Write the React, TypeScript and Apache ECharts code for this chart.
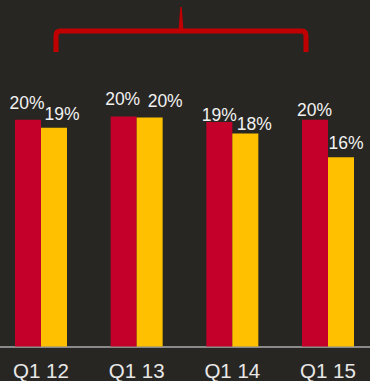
import React, { useEffect, useRef } from "react";
import * as echarts from "echarts";

const categories = ["Q1 12", "Q1 13", "Q1 14", "Q1 15"];
const redValues = [20.0, 20.3, 19.8, 20.0];
const yellowValues = [19.3, 20.2, 18.8, 16.7];
const redLabels = ["20%", "20%", "19%", "20%"];
const yellowLabels = ["19%", "20%", "18%", "16%"];
// label nudges [dx, dy] to mimic the hand-placed labels
const redOffsets = [[-1, -8], [-1, -8], [0, 1.5], [-0.5, -0.5]];
const yellowOffsets = [[8, -5], [15.5, -8], [9, -0.5], [5, -5]];

const FONT = "'Liberation Sans', Arial, sans-serif";

let registered = false;
function registerBrace() {
  if (registered) return;
  registered = true;
  echarts.graphic.registerShape(
    "brace",
    echarts.graphic.extendPath(
      "M56,52 L56,35.5 Q56,31 60.5,31 L301.5,31 Q306,31 306,35.5 L306,52",
      {}
    )
  );
}

export default function App() {
  const ref = useRef<HTMLDivElement>(null);
  useEffect(() => {
    if (!ref.current) return;
    registerBrace();
    const chart = echarts.init(ref.current, undefined, { renderer: "svg" });
    const mk = (vals: number[], labels: string[], offs: number[][]) =>
      vals.map((v, i) => ({
        value: v,
        label: { formatter: labels[i], offset: offs[i] },
      }));
    const labelBase = {
      show: true,
      position: "top" as const,
      distance: 0,
      color: "#f2f2f2",
      fontSize: 17.5,
      fontFamily: FONT,
    };
    chart.setOption({
      animation: false,
      backgroundColor: "#282622",
      grid: {
        left: -6.83,
        right: -5.83,
        top: 6.5,
        bottom: 34.5,
        containLabel: false,
        outerBoundsMode: "none",
      },
      xAxis: {
        type: "category",
        data: categories,
        axisLine: { show: true, lineStyle: { color: "#8a8a8a", width: 2 } },
        axisTick: { show: false },
        axisLabel: {
          color: "#e8e8e8",
          fontSize: 20.5,
          fontFamily: FONT,
          margin: 13,
        },
      },
      yAxis: {
        type: "value",
        min: 0,
        max: 30,
        show: false,
        splitLine: { show: false },
      },
      series: [
        {
          type: "bar",
          data: mk(redValues, redLabels, redOffsets),
          barWidth: 26,
          barGap: "0%",
          itemStyle: { color: "#c4002a" },
          label: labelBase,
        },
        {
          type: "bar",
          data: mk(yellowValues, yellowLabels, yellowOffsets),
          barWidth: 26,
          itemStyle: { color: "#ffc000" },
          label: labelBase,
        },
      ],
      graphic: [
        {
          type: "brace",
          x: 0,
          y: 0,
          style: { fill: "none", stroke: "#c00000", lineWidth: 5 },
        },
        {
          type: "polygon",
          shape: {
            points: [
              [178.5, 31],
              [180.3, 7],
              [181.7, 7],
              [183.5, 31],
            ],
          },
          style: { fill: "#c00000" },
        },
      ],
    });
    return () => chart.dispose();
  }, []);
  return (
    <div
      ref={ref}
      style={{ position: "fixed", left: 0, top: 0, width: 370, height: 381 }}
    />
  );
}
